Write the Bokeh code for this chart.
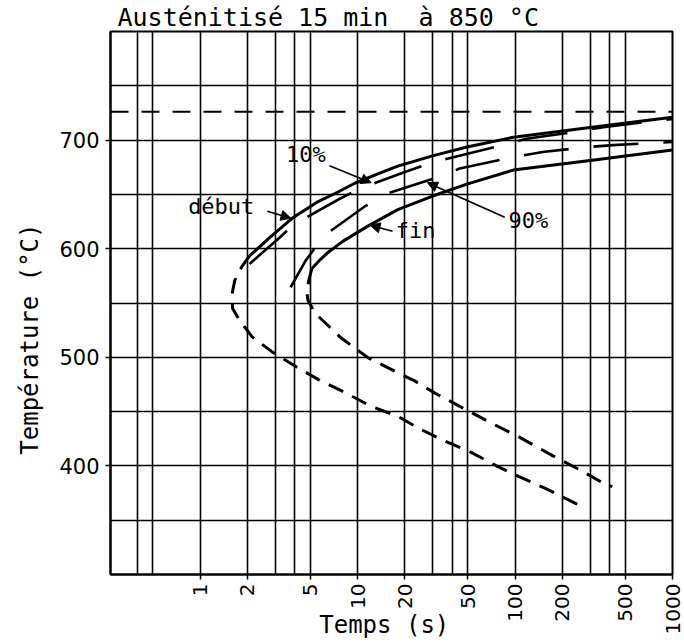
import math
from bokeh.plotting import figure
from bokeh.models import (Range1d, FixedTicker, PrintfTickFormatter, Label, Span,
                          Arrow, NormalHead)
from bokeh.embed import file_html
from bokeh.resources import INLINE

NBSP = "\u00a0"

# ---------------- data ----------------
title_text = "Austénitisé 15 min " + NBSP + "à 850 °C"
x_label = "Temps (s)"
y_label = "Température (°C)"

x_tick_values = [1, 2, 5, 10, 20, 50, 100, 200, 500, 1000]
x_grid_values = [0.4, 0.5, 1, 2, 3, 4, 5, 10, 20, 30, 40, 50, 100, 200, 300, 400, 500, 1000]
y_tick_values = [400, 500, 600, 700]
y_grid_values = [350, 400, 450, 500, 550, 600, 650, 700, 750]
ac1_temp = 726

# start of transformation ("début"), solid upper branch
debut_t = [2.06, 2.79, 3.84, 5.5, 7.46, 9.68, 14.1, 18.0, 29.9, 49.5, 97.8, 200, 400, 1000]
debut_T = [593.3, 610.7, 628, 642.6, 652, 660.5, 670, 676, 685.5, 693.6, 702.7, 708.4, 713.9, 721]
# start of transformation, dashed nose and lower branch
debut_low_t = [2.06, 1.83, 1.66, 1.59, 1.61, 1.78, 2.15, 2.87, 4.05, 5.66, 8.34, 12.2, 18.0,
               25.1, 35.4, 51.9, 76.1, 106, 157, 242, 280]
debut_low_T = [593.3, 582.7, 570.6, 556.9, 545, 534, 518.6, 505, 491.5, 479.4, 467.5, 454.8,
               445.7, 433.8, 423.2, 412.9, 400.1, 390.1, 379.1, 365.5, 360.9]
# end of transformation ("fin"), solid upper branch
fin_t = [5.12, 5.8, 6.55, 8.1, 11.7, 18.0, 30.0, 49.5, 97.5, 300, 1000]
fin_T = [581.5, 590, 597, 607, 621, 636, 648.5, 659.5, 672.4, 681.3, 690.8]
# end of transformation, dashed nose and lower branch
fin_low_t = [5.12, 4.9, 4.76, 4.85, 5.41, 7.88, 11.7, 18.0, 22.9, 30.6, 44.6, 69, 106.5, 173, 254, 375, 415]
fin_low_T = [581.5, 570.6, 560, 552.3, 540.2, 517.7, 499.5, 485.8, 478.5, 467.5, 454.8, 440.2,
             426.5, 409.5, 396.8, 383.1, 380.9]
# 10 % transformed
p10_t = [2.06, 3.18, 3.95, 7.56, 10.4, 20.2, 30.6, 74.3, 118, 249, 364, 830, 1000]
p10_T = [586, 609.8, 622.5, 645.3, 655.6, 670.8, 679.9, 693.6, 701.2, 707.9, 711.9, 718.2, 719.5]
# 90 % transformed
p90_t = [3.76, 4.67, 6.09, 11.1, 15.6, 30.6, 44.6, 99, 150, 288, 418, 1000]
p90_T = [564.5, 588.8, 611.6, 638.9, 651, 664.7, 673.8, 684.5, 689.1, 693.6, 695.4, 698.2]

mono = "DejaVu Sans Mono"

# ---------------- figure ----------------
p = figure(width=684, height=642, x_axis_type="log",
           x_range=Range1d(0.27, 1000), y_range=Range1d(300, 800),
           output_backend="svg", toolbar_location=None,
           min_border_left=110, min_border_right=12, min_border_top=30, min_border_bottom=68)
p.background_fill_color = "white"
p.border_fill_color = "white"
p.outline_line_color = "black"
p.outline_line_width = 2

p.title.text = title_text
p.title.text_font = mono
p.title.text_font_size = "25px"
p.title.text_font_style = "normal"
p.title.text_color = "black"
p.title.align = "left"
p.title.offset = 7
p.title.standoff = 0

p.xgrid.ticker = FixedTicker(ticks=x_grid_values)
p.ygrid.ticker = FixedTicker(ticks=y_grid_values)
for g in (p.xgrid, p.ygrid):
    g.grid_line_color = "black"
    g.grid_line_width = 1.6
    g.grid_line_alpha = 1.0

p.xaxis.ticker = FixedTicker(ticks=x_tick_values)
p.xaxis.formatter = PrintfTickFormatter(format="%d")
p.xaxis.major_label_orientation = math.pi / 2
p.yaxis.ticker = FixedTicker(ticks=y_tick_values)
for ax in (p.xaxis, p.yaxis):
    ax.axis_line_color = "black"
    ax.axis_line_width = 2
    ax.major_tick_line_color = "black"
    ax.major_tick_line_width = 1.5
    ax.major_tick_out = 5
    ax.major_tick_in = 0
    ax.minor_tick_line_color = None
    ax.major_label_text_font = "DejaVu Sans"
    ax.major_label_text_color = "black"
    ax.axis_label_text_font = mono
    ax.axis_label_text_font_size = "24px"
    ax.axis_label_text_font_style = "normal"
    ax.axis_label_text_color = "black"
p.xaxis.major_label_text_font_size = "20px"
p.yaxis.major_label_text_font_size = "21px"
p.xaxis.major_label_standoff = 4
p.yaxis.major_label_standoff = 6
p.xaxis.axis_label = x_label + NBSP
p.xaxis.axis_label_standoff = -26
p.yaxis.axis_label = y_label + NBSP * 5
p.yaxis.axis_label_standoff = 12

# Ac1 reference line
p.add_layout(Span(location=ac1_temp, dimension="width", line_color="black",
                  line_width=2, line_dash="18 13"))

# curves
p.line(debut_t, debut_T, line_color="black", line_width=3)
p.line(debut_low_t, debut_low_T, line_color="black", line_width=3, line_dash="16 10")
p.line(fin_t, fin_T, line_color="black", line_width=3)
p.line(fin_low_t, fin_low_T, line_color="black", line_width=3, line_dash="16 10")
p.line(p10_t, p10_T, line_color="black", line_width=2.6, line_dash="50 25")
p.line(p90_t, p90_T, line_color="black", line_width=2.6, line_dash="45 25")

# annotations
def add_text(x, y, txt, size="22px"):
    p.add_layout(Label(x=x, y=y, text=txt, text_font=mono, text_font_size=size,
                       text_color="black"))

add_text(3.52, 675.4, "10%")
add_text(0.84, 627, "début")
add_text(17.5, 605.2, "fin")
add_text(90.8, 614.3, "90%")

def add_arrow(x0, y0, x1, y1):
    p.add_layout(Arrow(end=NormalHead(size=10, fill_color="black", line_color="black"),
                       x_start=x0, y_start=y0, x_end=x1, y_end=y1,
                       line_color="black", line_width=1.6))

add_arrow(6.64, 676.3, 12.2, 660.8)
add_arrow(2.67, 634.4, 3.78, 628)
add_arrow(16.7, 616.1, 12.0, 621.6)
add_arrow(86, 628.9, 27.8, 660.8)

open("out.html", "w").write(file_html(p, INLINE))
